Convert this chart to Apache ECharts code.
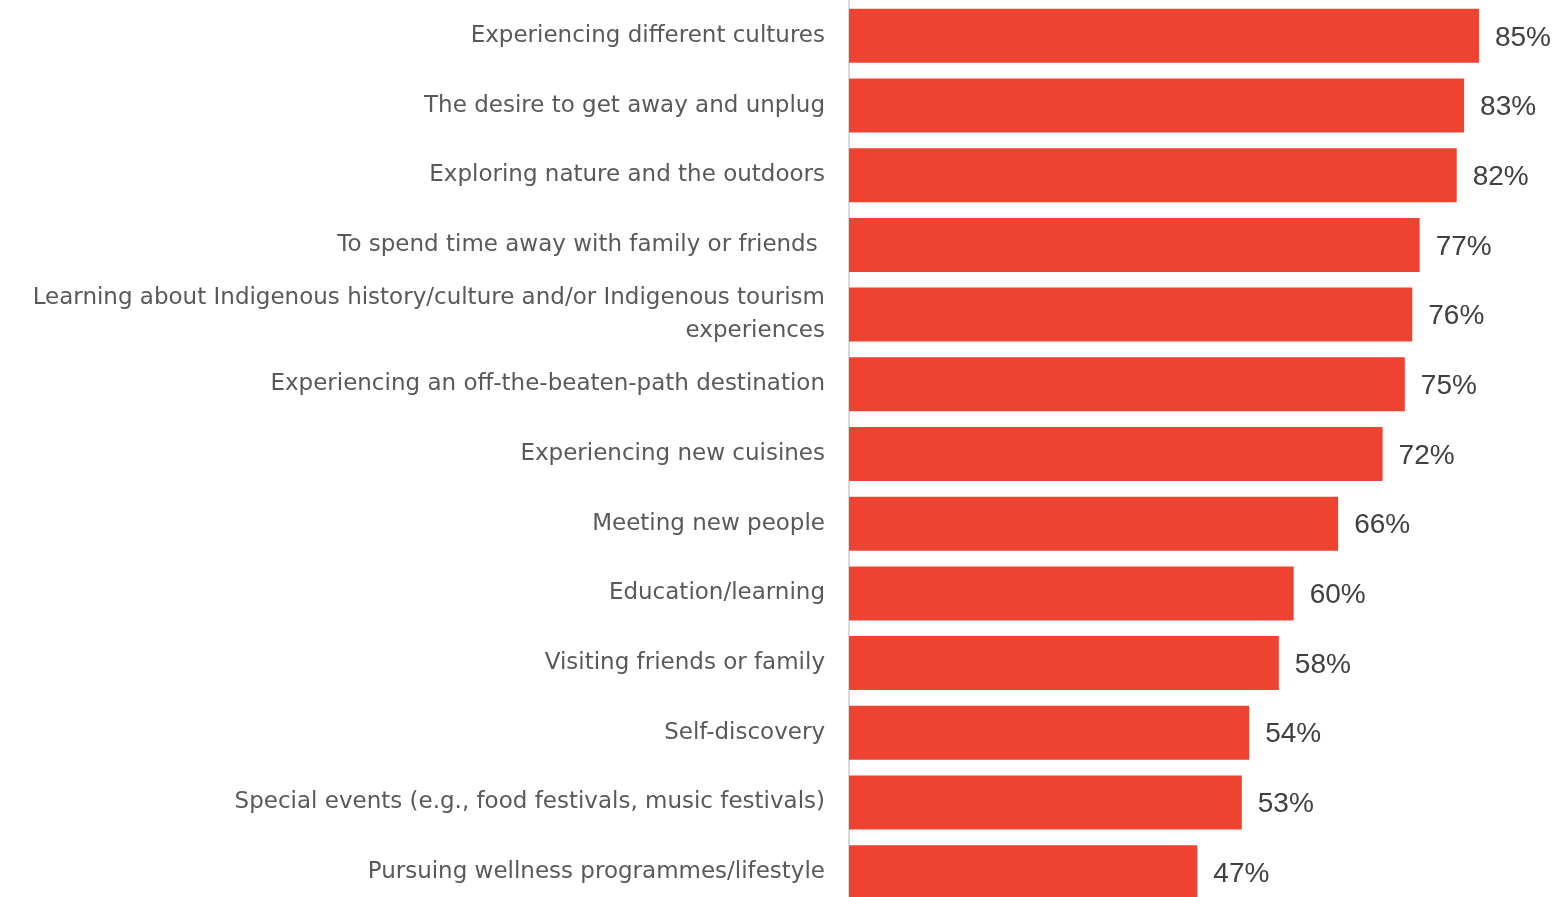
<!DOCTYPE html>
<html>
<head>
<meta charset="utf-8">
<script src="https://cdn.jsdelivr.net/npm/echarts@6/dist/echarts.min.js"></script>
<style>
  html, body { margin: 0; padding: 0; background: #ffffff; }
  #chart { width: 1555px; height: 897px; }
</style>
</head>
<body>
<div id="chart"></div>
<script>
// Reasons for travel, share of respondents (%)
const categories = [
  'Experiencing different cultures',
  'The desire to get away and unplug',
  'Exploring nature and the outdoors',
  'To spend time away with family or friends ',
  'Learning about Indigenous history/culture and/or Indigenous tourism\nexperiences',
  'Experiencing an off-the-beaten-path destination',
  'Experiencing new cuisines',
  'Meeting new people',
  'Education/learning',
  'Visiting friends or family',
  'Self-discovery',
  'Special events (e.g., food festivals, music festivals)',
  'Pursuing wellness programmes/lifestyle'
];
const values = [85, 83, 82, 77, 76, 75, 72, 66, 60, 58, 54, 53, 47];

const chart = echarts.init(document.getElementById('chart'));
chart.setOption({
  animation: false,
  // the last row runs past the bottom edge of the canvas
  grid: {
    left: 849, top: 1, width: 667, height: 906,
    containLabel: false,
    outerBoundsMode: 'none'
  },
  xAxis: {
    type: 'value', min: 0, max: 90,
    show: false
  },
  yAxis: {
    type: 'category',
    data: categories,
    inverse: true,
    axisLine: { show: true, lineStyle: { color: '#d9d9d9', width: 2 } },
    axisTick: { show: false },
    axisLabel: {
      margin: 24,
      color: '#595959',
      fontFamily: 'DejaVu Sans',
      fontSize: 23,
      lineHeight: 33,
      align: 'right'
    }
  },
  series: [{
    type: 'bar',
    data: values,
    barWidth: 54,
    itemStyle: { color: '#EE4330' },
    label: {
      show: true,
      position: 'right',
      distance: 16,
      offset: [0, 2],
      formatter: '{c}%',
      color: '#404040',
      fontFamily: 'Liberation Sans',
      fontSize: 28
    }
  }]
});
</script>
</body>
</html>
